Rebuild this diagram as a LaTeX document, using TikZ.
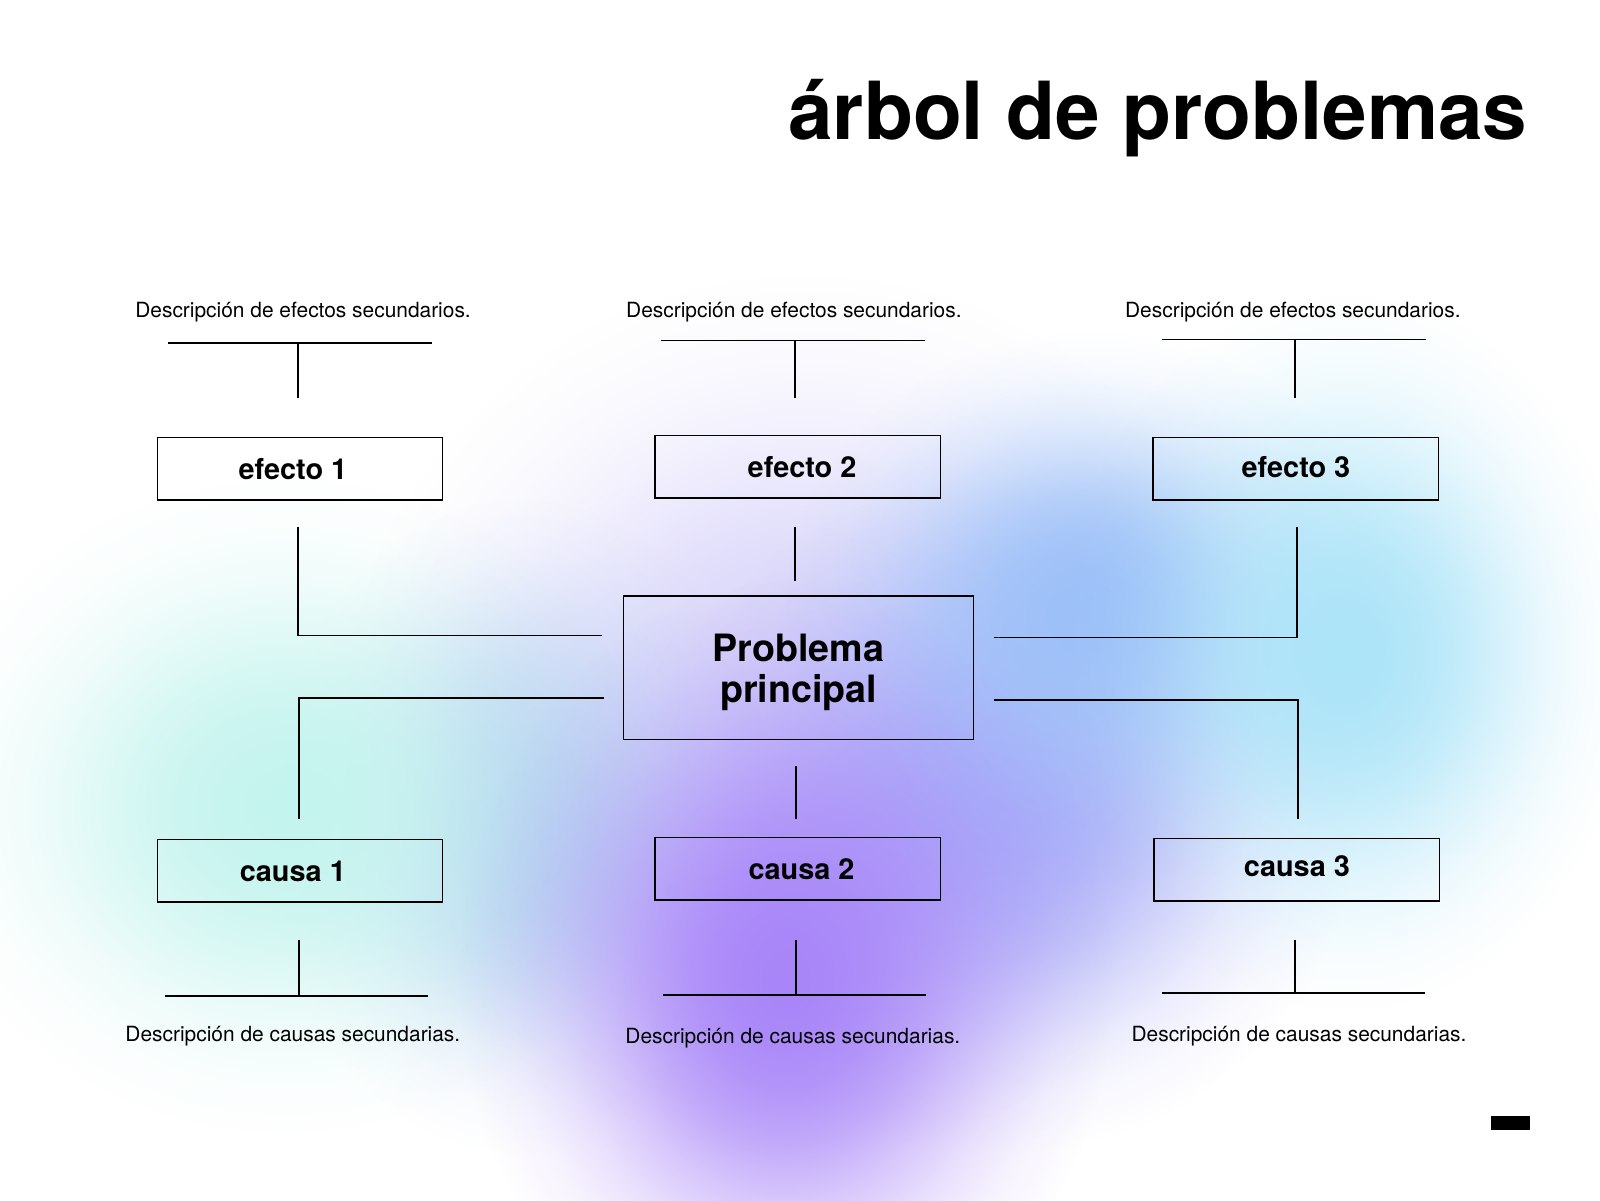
\documentclass[tikz,border=0pt]{standalone}
\usepackage{fontspec}
\setmainfont{TeX Gyre Heros}
\usetikzlibrary{fadings}
\pgfdeclareradialshading{blobshade}{\pgfpoint{0bp}{0bp}}{%
  color(0bp)=(black!0); color(3.5bp)=(black!4); color(7bp)=(black!14);
  color(10.5bp)=(black!32); color(14bp)=(black!55); color(17.5bp)=(black!76);
  color(21bp)=(black!91); color(25bp)=(black!100); color(50bp)=(black!100)}
\pgfdeclarefading{blob}{\pgfuseshading{blobshade}}
\definecolor{lav}{HTML}{D6D2FA}
\definecolor{blu}{HTML}{9CC0F8}
\definecolor{cya}{HTML}{ACE4F8}
\definecolor{min}{HTML}{C4F4EE}
\definecolor{pur}{HTML}{A885F8}
\definecolor{mid}{HTML}{AAAEF8}
\definecolor{bri}{HTML}{B8D0F2}
\tikzset{
  box/.style={draw=black, line width=1.2pt, minimum width=280pt, minimum height=61pt, inner sep=0pt,
    font=\bfseries\fontsize{28.3}{30}\selectfont, text height=20.4pt, text depth=0pt},
  mainbox/.style={draw=black, line width=1.2pt, minimum width=343pt, minimum height=141pt, inner sep=0pt,
    align=center, font=\bfseries\fontsize{36.9}{40}\selectfont, text depth=0pt},
  desc/.style={anchor=base, inner sep=0pt, font=\fontsize{20.5}{22}\selectfont},
  conn/.style={line width=1.3pt, black},
  blobfill/.style={path fading=blob, fit fading=true}
}
\begin{document}
\begin{tikzpicture}[x=1pt, y=-1pt]
\useasboundingbox (0,0) rectangle (1568,1176);
\fill[white] (0,0) rectangle (1568,1176);
% background blobs
\fill[lav, blobfill] (790,700) ellipse (450 and 430);
\fill[bri, blobfill] (510,810) ellipse (250 and 320);
\fill[mid, blobfill] (980,800) ellipse (350 and 330);
\fill[blu, blobfill] (1070,595) ellipse (300 and 270);
\fill[cya, blobfill] (1320,640) ellipse (280 and 350);
\fill[min, blobfill] (280,790) ellipse (360 and 320);
\fill[pur, blobfill] (770,960) ellipse (320 and 390);

% title
\node[anchor=base east, inner sep=0pt, font=\bfseries\fontsize{78.5}{80}\selectfont] (title) at (1497,137) {árbol de problemas};

% boxes
\node[box] (e1) at (294,459.5) {\hspace*{-14pt}efecto 1};
\node[box] (e2) at (782,457.5) {\hspace*{8pt}efecto 2};
\node[box, text depth=3pt] (e3) at (1270,459.5) {efecto 3};
\node[mainbox] (pp) at (782.5,654.5) {Problema\\principal};
\node[box] (c1) at (294,853.5) {\hspace*{-14pt}causa 1};
\node[box] (c2) at (782,851.5) {\hspace*{7pt}causa 2};
\node[box, text depth=7pt] (c3) at (1271,852.5) {causa 3};

% descriptions
\node[desc] (d1) at (297,311) {Descripción de efectos secundarios.};
\node[desc] (d2) at (778,311) {Descripción de efectos secundarios.};
\node[desc] (d3) at (1267,311) {Descripción de efectos secundarios.};
\node[desc] (b1) at (287,1021) {Descripción de causas secundarias.};
\node[desc] (b2) at (777,1023) {Descripción de causas secundarias.};
\node[desc] (b3) at (1273,1021) {Descripción de causas secundarias.};

% connector coordinates
\coordinate (t1l) at (165,336); \coordinate (t1r) at (423,336);
\coordinate (t1a) at (292,336); \coordinate (t1b) at (292,390);
\coordinate (t2l) at (648,334); \coordinate (t2r) at (906,334);
\coordinate (t2a) at (779,334); \coordinate (t2b) at (779,390);
\coordinate (t3l) at (1139,333); \coordinate (t3r) at (1397,333);
\coordinate (t3a) at (1269,333); \coordinate (t3b) at (1269,390);

\coordinate (e1a) at (292,516); \coordinate (e1b) at (292,623); \coordinate (e1c) at (590,623);
\coordinate (e2a) at (779,516); \coordinate (e2b) at (779,569);
\coordinate (e3a) at (1271,516); \coordinate (e3b) at (1271,625); \coordinate (e3c) at (974,625);

\coordinate (c1a) at (592,684); \coordinate (c1b) at (293,684); \coordinate (c1c) at (293,803);
\coordinate (c2a) at (780,751); \coordinate (c2b) at (780,803);
\coordinate (c3a) at (974,686); \coordinate (c3b) at (1272,686); \coordinate (c3c) at (1272,803);

\coordinate (u1a) at (293,921); \coordinate (u1b) at (293,976);
\coordinate (u1l) at (162,976); \coordinate (u1r) at (419,976);
\coordinate (u2a) at (780,921); \coordinate (u2b) at (780,975);
\coordinate (u2l) at (650,975); \coordinate (u2r) at (907,975);
\coordinate (u3a) at (1269,921); \coordinate (u3b) at (1269,973);
\coordinate (u3l) at (1139,973); \coordinate (u3r) at (1396,973);

% connectors
\draw[conn] (t1l) -- (t1r); \draw[conn] (t1a) -- (t1b);
\draw[conn] (t2l) -- (t2r); \draw[conn] (t2a) -- (t2b);
\draw[conn] (t3l) -- (t3r); \draw[conn] (t3a) -- (t3b);
\draw[conn] (e1a) -- (e1b) -- (e1c);
\draw[conn] (e2a) -- (e2b);
\draw[conn] (e3a) -- (e3b) -- (e3c);
\draw[conn] (c1a) -- (c1b) -- (c1c);
\draw[conn] (c2a) -- (c2b);
\draw[conn] (c3a) -- (c3b) -- (c3c);
\draw[conn] (u1a) -- (u1b); \draw[conn] (u1l) -- (u1r);
\draw[conn] (u2a) -- (u2b); \draw[conn] (u2l) -- (u2r);
\draw[conn] (u3a) -- (u3b); \draw[conn] (u3l) -- (u3r);

% page marker
\fill[black] (1461,1094) rectangle (1499,1107);
\end{tikzpicture}
\end{document}
